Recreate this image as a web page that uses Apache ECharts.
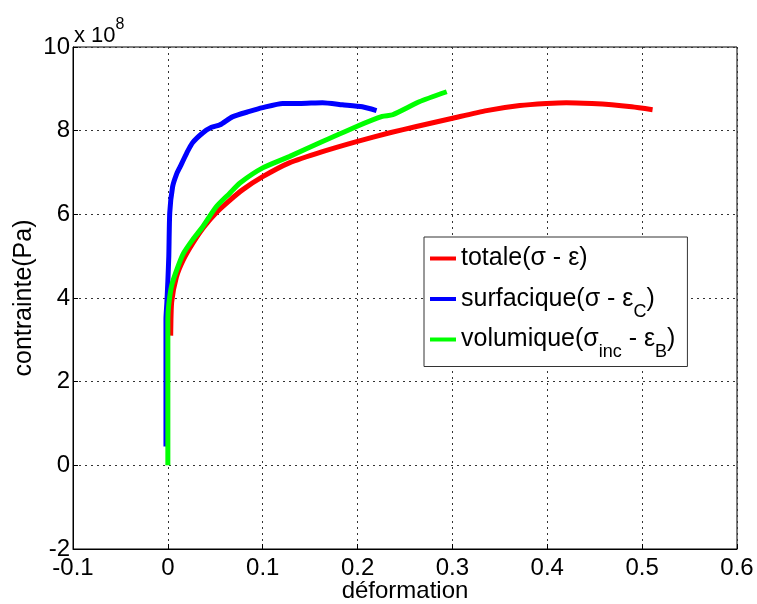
<!DOCTYPE html>
<html>
<head>
<meta charset="utf-8">
<script src="https://cdn.jsdelivr.net/npm/echarts@6/dist/echarts.min.js"></script>
<style>
  html, body { margin: 0; padding: 0; background: #fff; }
  #main { width: 757px; height: 604px; }
</style>
</head>
<body>
<div id="main"></div>
<script>
// courbes contrainte (x 10^8 Pa) / deformation
var surfX = [-0.002, -0.002, -0.002, -0.001, 0, 0.001, 0.002, 0.005, 0.009, 0.013, 0.02, 0.026, 0.037, 0.046, 0.055, 0.068, 0.086, 0.1, 0.121, 0.139, 0.163, 0.184, 0.205, 0.22];
var surfY = [0.45, 2.0, 3.5, 3.9, 4.4, 5.0, 6.04, 6.66, 6.95, 7.14, 7.47, 7.71, 7.95, 8.08, 8.14, 8.33, 8.46, 8.55, 8.65, 8.65, 8.67, 8.62, 8.57, 8.48];

var totX = [0.003, 0.004, 0.009, 0.016, 0.026, 0.038, 0.051, 0.065, 0.079, 0.1, 0.128, 0.163, 0.199, 0.234, 0.262, 0.299, 0.336, 0.371, 0.399, 0.42, 0.447, 0.468, 0.489, 0.511];
var totY = [3.1, 3.9, 4.5, 4.9, 5.3, 5.7, 6.04, 6.33, 6.59, 6.9, 7.23, 7.5, 7.74, 7.95, 8.1, 8.29, 8.48, 8.6, 8.65, 8.67, 8.65, 8.62, 8.57, 8.5];

var volX = [0, 0, 0, 0.001, 0.004, 0.009, 0.016, 0.026, 0.036, 0.051, 0.065, 0.076, 0.1, 0.128, 0.163, 0.199, 0.226, 0.237, 0.265, 0.294];
var volY = [0, 2.0, 3.5, 3.85, 4.3, 4.65, 5.05, 5.39, 5.68, 6.18, 6.5, 6.75, 7.11, 7.38, 7.74, 8.1, 8.34, 8.38, 8.69, 8.93];

var seriesNames = ['totale', 'surfacique', 'volumique'];
var xTicks = [-0.1, 0.6, 0.1];   // min, max, interval
var yTicks = [-2, 10, 2];

function pairs(xs, ys) {
    var out = [];
    for (var i = 0; i < xs.length; i++) out.push([xs[i], ys[i]]);
    return out;
}

var font = 'Liberation Sans, Arial, sans-serif';
var legendText = {
    'totale': '{n|totale(σ - ε)}{sub| }',
    'surfacique': '{n|surfacique(σ - ε}{sub|C}{n|)}',
    'volumique': '{n|volumique(σ}{sub|inc}{n| - ε}{sub|B}{n|)}'
};

var chart = echarts.init(document.getElementById('main'));
chart.setOption({
    animation: false,
    backgroundColor: '#fff',
    grid: {
        left: 73, right: 20, top: 47, bottom: 55,
        outerBoundsMode: 'none',
        containLabel: false,
        show: true, borderColor: '#000', borderWidth: 1
    },
    xAxis: {
        type: 'value',
        min: xTicks[0], max: xTicks[1], interval: xTicks[2],
        name: 'déformation',
        nameLocation: 'middle',
        nameGap: 30,
        nameMoveOverlap: false,
        nameTextStyle: { fontFamily: font, fontSize: 24, color: '#000' },
        axisLine: { onZero: false, lineStyle: { color: '#000', width: 1 } },
        axisTick: { inside: true, length: 5, lineStyle: { color: '#000' } },
        axisLabel: { fontFamily: font, fontSize: 24, color: '#000', margin: 7 },
        splitLine: { show: true, lineStyle: { color: '#333', type: [2, 4], width: 1 } }
    },
    yAxis: {
        type: 'value',
        min: yTicks[0], max: yTicks[1], interval: yTicks[2],
        name: 'contrainte(Pa)',
        nameLocation: 'middle',
        nameGap: 36,
        nameMoveOverlap: false,
        nameTextStyle: { fontFamily: font, fontSize: 25, color: '#000' },
        axisLine: { onZero: false, lineStyle: { color: '#000', width: 1 } },
        axisTick: { inside: true, length: 5, lineStyle: { color: '#000' } },
        axisLabel: { fontFamily: font, fontSize: 24, color: '#000', margin: 3 },
        splitLine: { show: true, lineStyle: { color: '#333', type: [2, 4], width: 1 } }
    },
    legend: {
        orient: 'vertical',
        left: 424, top: 237,
        data: seriesNames,
        backgroundColor: '#fff',
        borderColor: '#333',
        borderWidth: 1,
        padding: [9, 12, 5, 6],
        itemGap: 6,
        icon: 'rect',
        itemWidth: 26,
        itemHeight: 4,
        formatter: function (name) { return legendText[name]; },
        textStyle: {
            color: '#000',
            rich: {
                n: { fontFamily: font, fontSize: 25, color: '#000', lineHeight: 38 },
                sub: { fontFamily: font, fontSize: 18, color: '#000', verticalAlign: 'bottom', lineHeight: 44 }
            }
        }
    },
    graphic: [{
        type: 'text',
        left: 74, top: 17,
        style: {
            text: '{a|x 10}{b|8}',
            rich: {
                a: { fontFamily: font, fontSize: 22, fill: '#000', verticalAlign: 'bottom', lineHeight: 30 },
                b: { fontFamily: font, fontSize: 16, fill: '#000', verticalAlign: 'top', lineHeight: 30 }
            }
        }
    }],
    series: [{
        name: 'surfacique',
        type: 'line',
        data: pairs(surfX, surfY),
        showSymbol: false,
        smooth: 0.2,
        color: '#0000ff',
        lineStyle: { width: 5, color: '#0000ff' }
    }, {
        name: 'totale',
        type: 'line',
        data: pairs(totX, totY),
        showSymbol: false,
        smooth: 0.2,
        color: '#ff0000',
        lineStyle: { width: 5, color: '#ff0000' }
    }, {
        name: 'volumique',
        type: 'line',
        data: pairs(volX, volY),
        showSymbol: false,
        smooth: 0.2,
        color: '#00ff00',
        lineStyle: { width: 5, color: '#00ff00' }
    }]
});
</script>
</body>
</html>
